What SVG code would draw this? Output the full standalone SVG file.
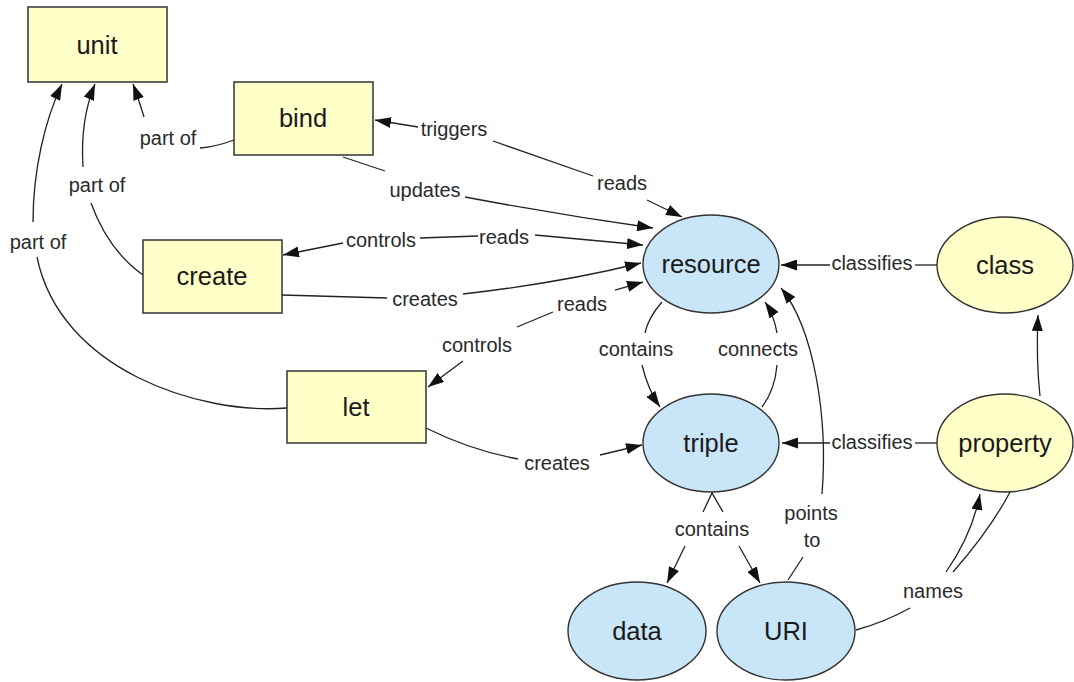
<svg xmlns="http://www.w3.org/2000/svg" width="1074" height="682" viewBox="0 0 1074 682">
<defs>
<marker id="arr" viewBox="0 0 16 11" refX="16" refY="5.5" markerWidth="16" markerHeight="11" markerUnits="userSpaceOnUse" orient="auto">
<path d="M0,0 L16,5.5 L0,11 z" fill="#111"/>
</marker>
<style>
.box{fill:#FFFFC8;stroke:#333;stroke-width:1.5}
.yel{fill:#FFFFC8;stroke:#333;stroke-width:1.4}
.blu{fill:#C9E5F8;stroke:#333;stroke-width:1.4}
.nl{font-family:"Liberation Sans",Arial,sans-serif;font-size:25.5px;fill:#1a1a1a;text-anchor:middle;dominant-baseline:central}
.el{font-family:"Liberation Sans",Arial,sans-serif;font-size:20px;fill:#2a2a2a;text-anchor:middle;dominant-baseline:central}
.e{fill:none;stroke:#222;stroke-width:1.3}
.a{fill:none;stroke:#222;stroke-width:1.3;marker-end:url(#arr)}
</style>
</defs>
<rect width="1074" height="682" fill="#fff"/>
<g id="connectors">
<!-- part of: bind -> unit -->
<path class="e" d="M234,140 Q215,147 200,148"/>
<path class="a" d="M144,117 Q139,100 133,84"/>
<text class="el" x="168" y="138">part of</text>
<!-- part of: create -> unit -->
<path class="e" d="M143,275 Q108,250 91,203"/>
<path class="a" d="M83,167 Q80,120 95,84"/>
<text class="el" x="97" y="185">part of</text>
<!-- part of: let -> unit -->
<path class="e" d="M287,408 C200,415 60,370 37,257"/>
<path class="a" d="M33,222 C33,170 45,120 62,84"/>
<text class="el" x="38" y="242">part of</text>
<!-- triggers / reads: bind <-> resource -->
<path class="a" d="M418,127 L375,120"/>
<text class="el" x="454" y="129">triggers</text>
<path class="e" d="M493,141 L593,176"/>
<text class="el" x="622" y="183">reads</text>
<path class="a" d="M647,200 L682,217"/>
<!-- updates: bind -> resource -->
<path class="e" d="M343,157 L385,171"/>
<text class="el" x="425" y="190">updates</text>
<path class="a" d="M465,197 Q560,215 653,228"/>
<!-- controls / reads: create <-> resource -->
<path class="a" d="M343,243 L283,255"/>
<text class="el" x="381" y="240">controls</text>
<path class="e" d="M420,238 L478,236"/>
<text class="el" x="504" y="237">reads</text>
<path class="a" d="M535,235 L643,245"/>
<!-- creates: create -> resource -->
<path class="e" d="M282,295 L387,298"/>
<text class="el" x="425" y="299">creates</text>
<path class="a" d="M463,294 Q560,283 641,263"/>
<!-- controls / reads: let <-> resource -->
<path class="a" d="M615,290 L643,282"/>
<text class="el" x="582" y="304">reads</text>
<path class="e" d="M553,312 L517,327"/>
<text class="el" x="477" y="345">controls</text>
<path class="a" d="M463,361 L428,387"/>
<!-- creates: let -> triple -->
<path class="e" d="M426,428 Q470,450 518,459"/>
<text class="el" x="557" y="463">creates</text>
<path class="a" d="M600,455 L642,445"/>
<!-- contains: resource -> triple -->
<path class="e" d="M662,302 Q648,318 645,333"/>
<text class="el" x="636" y="349">contains</text>
<path class="a" d="M642,365 Q648,390 660,407"/>
<!-- connects: triple -> resource -->
<path class="e" d="M762,407 Q775,390 777,365"/>
<text class="el" x="758" y="349">connects</text>
<path class="a" d="M777,333 Q774,315 765,302"/>
<!-- classifies: class -> resource -->
<path class="e" d="M937,265 L915,265"/>
<text class="el" x="872" y="263">classifies</text>
<path class="a" d="M830,265 L781,265"/>
<!-- classifies: property -> triple -->
<path class="e" d="M937,443 L915,443"/>
<text class="el" x="872" y="442">classifies</text>
<path class="a" d="M830,443 L782,443"/>
<!-- property -> class -->
<path class="a" d="M1040,396 Q1036,360 1038,315"/>
<!-- points to: URI -> resource -->
<path class="e" d="M788,580 L803,557"/>
<text class="el" x="811" y="513">points</text>
<text class="el" x="812" y="540">to</text>
<path class="a" d="M822,494 C828,420 815,330 781,288"/>
<!-- contains: triple -> data, URI -->
<path class="e" d="M703,512 L712,493 L723,512"/>
<text class="el" x="712" y="529">contains</text>
<path class="a" d="M685,546 L667,583"/>
<path class="a" d="M739,546 L760,583"/>
<!-- names: URI -> property -->
<path class="e" d="M856,630 Q885,622 910,608"/>
<text class="el" x="933" y="591">names</text>
<path class="a" d="M946,572 Q972,535 980,494"/>
<path class="e" d="M953,572 Q990,530 1010,492"/>
</g>
<g id="unit"><rect class="box" x="28" y="7" width="139" height="75"/><text class="nl" x="97" y="45">unit</text></g>
<g id="bind"><rect class="box" x="234" y="82" width="139" height="73"/><text class="nl" x="303" y="118">bind</text></g>
<g id="create"><rect class="box" x="143" y="240" width="139" height="73"/><text class="nl" x="212" y="276">create</text></g>
<g id="let"><rect class="box" x="287" y="371" width="139" height="72"/><text class="nl" x="356" y="407">let</text></g>
<g id="resource"><ellipse class="blu" cx="711" cy="264" rx="68" ry="49"/><text class="nl" x="711" y="264">resource</text></g>
<g id="triple"><ellipse class="blu" cx="711" cy="443" rx="68" ry="49"/><text class="nl" x="711" y="443">triple</text></g>
<g id="class"><ellipse class="yel" cx="1005" cy="265" rx="68" ry="48"/><text class="nl" x="1005" y="265">class</text></g>
<g id="property"><ellipse class="yel" cx="1005" cy="443" rx="68" ry="49"/><text class="nl" x="1005" y="443">property</text></g>
<g id="data"><ellipse class="blu" cx="637" cy="631" rx="69" ry="49"/><text class="nl" x="637" y="631">data</text></g>
<g id="URI"><ellipse class="blu" cx="786" cy="631" rx="69" ry="49"/><text class="nl" x="786" y="631">URI</text></g>
</svg>
